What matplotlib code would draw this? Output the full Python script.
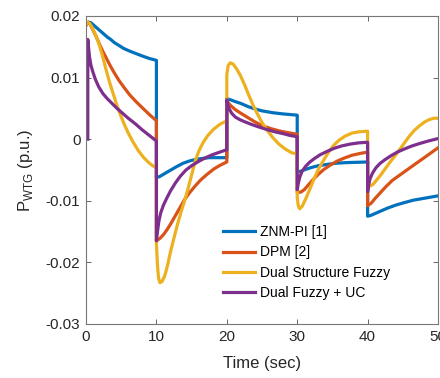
import matplotlib
matplotlib.use("Agg")
import matplotlib.pyplot as plt

plt.rcParams["font.family"] = ["Liberation Sans", "DejaVu Sans"]
plt.rcParams["mathtext.fontset"] = "custom"
plt.rcParams["mathtext.rm"] = "Liberation Sans"

# wind turbine power deviation, one list of (time, value) knots per controller
t_znm = [0, 0.2, 0.4, 0.7, 1, 1.5, 2, 2.5, 3, 3.5, 4, 4.7, 5.4, 6.2, 7.1, 8, 9, 10,
         10, 10.4, 11, 11.9, 12.8, 13.8, 14.8, 16, 17.5, 20,
         20, 20.5, 21.2, 22, 23, 24, 25, 26.5, 28, 30,
         30, 30.5, 31.2, 32, 33, 34.2, 35.5, 37, 40,
         40, 40.4, 41, 41.8, 42.8, 44, 45.2, 46.5, 48, 50]
p_znm = [0.0185, 0.0189, 0.019, 0.0189, 0.0186, 0.0181, 0.0176, 0.0171, 0.0166, 0.0162,
         0.0157, 0.0152, 0.0147, 0.0143, 0.0139, 0.0135, 0.0131, 0.0128,
         -0.0062, -0.0061, -0.0057, -0.0051, -0.0045, -0.0039, -0.0035, -0.0032, -0.0030, -0.0030,
         0.0066, 0.0064, 0.0061, 0.0058, 0.0053, 0.0049, 0.0046, 0.0043, 0.0041, 0.0039,
         -0.0053, -0.0052, -0.0049, -0.0046, -0.0043, -0.0041, -0.0039, -0.0038, -0.0037,
         -0.0125, -0.0124, -0.0121, -0.0117, -0.0112, -0.0107, -0.0103, -0.0099, -0.0096, -0.0092]

t_dpm = [0, 0.3, 0.6, 1, 1.5, 2, 2.5, 3, 3.5, 4.1, 4.7, 5.4, 6.2, 7.1, 8, 9, 10,
         10, 10.5, 11, 11.5, 12, 12.5, 13, 13.5, 14, 14.7, 15.5, 16.3, 17.2, 18.2, 19.1, 20,
         20, 20.2, 20.6, 21.2, 22, 23, 24, 25, 26.3, 27.6, 29, 30,
         30, 30.5, 31, 31.6, 32.3, 33, 33.8, 34.7, 35.6, 36.6, 37.8, 39, 40,
         40, 40.5, 41, 41.8, 42.6, 43.5, 44.6, 45.7, 46.8, 47.8, 48.9, 50]
p_dpm = [0.0185, 0.019, 0.0186, 0.0177, 0.0165, 0.0152, 0.0140, 0.0129, 0.0118, 0.0106,
         0.0095, 0.0084, 0.0072, 0.0061, 0.0051, 0.0040, 0.0030,
         -0.0165, -0.0161, -0.0155, -0.0147, -0.0138, -0.0128, -0.0118, -0.0108, -0.0098,
         -0.0087, -0.0076, -0.0066, -0.0057, -0.0048, -0.0042, -0.0037,
         0.0062, 0.0059, 0.0054, 0.0048, 0.0042, 0.0035, 0.0028, 0.0022, 0.0017, 0.0013, 0.0010, 0.0008,
         -0.0086, -0.0086, -0.0082, -0.0074, -0.0065, -0.0057, -0.0049, -0.0042, -0.0036,
         -0.0031, -0.0026, -0.0023, -0.0021,
         -0.0108, -0.0104, -0.0097, -0.0087, -0.0077, -0.0067, -0.0058, -0.0049, -0.0040,
         -0.0032, -0.0023, -0.0014]

t_dsf = [0, 0.2, 0.5, 0.9, 1.3, 1.8, 2.3, 2.8, 3.3, 3.8, 4.3, 4.8, 5.4, 6, 6.7, 7.4, 8.2, 9, 9.6, 10,
         10, 10.15, 10.3, 10.5, 10.8, 11.2, 11.6, 12, 12.5, 13, 13.5, 14, 14.5, 15, 15.5,
         16, 16.6, 17.3, 18.1, 19, 20,
         20, 20.2, 20.5, 20.9, 21.4, 21.9, 22.5, 23.1, 23.7, 24.3, 25, 25.7, 26.5, 27.4, 28.3, 29.2, 30,
         30, 30.15, 30.35, 30.7, 31.2, 31.8, 32.4, 33, 33.7, 34.4, 35.1, 35.9, 36.8, 37.8, 38.8, 40,
         40, 40.15, 40.4, 40.8, 41.3, 41.8, 42.5, 43.2, 43.9, 44.6, 45.3, 46, 46.7, 47.4, 48.1,
         48.8, 49.4, 50]
p_dsf = [0.0185, 0.019, 0.0188, 0.0181, 0.0171, 0.0156, 0.0137, 0.0115, 0.0094, 0.0076,
         0.0058, 0.0042, 0.0025, 0.0010, -0.0005, -0.0018, -0.0030, -0.0039, -0.0044, -0.0046,
         -0.0170, -0.0205, -0.0225, -0.0233, -0.0231, -0.0221, -0.0204, -0.0183, -0.0160,
         -0.0138, -0.0118, -0.0100, -0.0080, -0.0058, -0.0036, -0.0020, -0.0006, 0.0006,
         0.0016, 0.0024, 0.0030,
         0.0105, 0.0120, 0.0124, 0.0122, 0.0114, 0.0104, 0.0089, 0.0072, 0.0056, 0.0042,
         0.0027, 0.0015, 0.0003, -0.0008, -0.0016, -0.0022, -0.0024,
         -0.0095, -0.0108, -0.0113, -0.0109, -0.0097, -0.0081, -0.0064, -0.0049, -0.0035,
         -0.0022, -0.0011, -0.0002, 0.0005, 0.0010, 0.0012, 0.0013,
         -0.0062, -0.0072, -0.0076, -0.0073, -0.0066, -0.0059, -0.0048, -0.0037, -0.0027,
         -0.0016, -0.0005, 0.0006, 0.0015, 0.0022, 0.0028, 0.0032, 0.0034, 0.0034]

t_dfuc = [0.25, 0.25, 0.35, 0.5, 0.7, 0.95, 1.3, 1.8, 2.4, 3, 3.7, 4.4, 5.2, 6, 7, 8, 9, 10,
          10, 10.15, 10.35, 10.6, 11, 11.5, 12, 12.7, 13.4, 14.2, 15, 16, 17, 18, 19, 20,
          20, 20.15, 20.35, 20.7, 21.2, 21.8, 22.6, 23.5, 24.5, 25.6, 26.8, 28, 29, 30,
          30, 30.15, 30.35, 30.7, 31.2, 31.8, 32.5, 33.3, 34.2, 35.2, 36.3, 37.5, 38.7, 40,
          40, 40.15, 40.35, 40.7, 41.2, 41.8, 42.5, 43.3, 44.2, 45.2, 46.3, 47.4, 48.6, 50]
p_dfuc = [0, 0.0162, 0.0150, 0.0133, 0.0120, 0.0110, 0.0098, 0.0085, 0.0074, 0.0066,
          0.0058, 0.0050, 0.0042, 0.0034, 0.0025, 0.0015, 0.0006, -0.0003,
          -0.0165, -0.0150, -0.0133, -0.0120, -0.0107, -0.0095, -0.0084, -0.0071, -0.0060,
          -0.0050, -0.0043, -0.0036, -0.0030, -0.0025, -0.0021, -0.0017,
          0.0064, 0.0056, 0.0049, 0.0042, 0.0036, 0.0032, 0.0028, 0.0024, 0.0020, 0.0016,
          0.0012, 0.0009, 0.0006, 0.0004,
          -0.0082, -0.0072, -0.0062, -0.0052, -0.0044, -0.0037, -0.0031, -0.0025, -0.0020,
          -0.0015, -0.0011, -0.0008, -0.0006, -0.0005,
          -0.0085, -0.0074, -0.0064, -0.0055, -0.0046, -0.0039, -0.0033, -0.0027, -0.0021,
          -0.0016, -0.0011, -0.0007, -0.0003, 0.0001]

labels = ["ZNM-PI [1]", "DPM [2]", "Dual Structure Fuzzy", "Dual Fuzzy + UC"]
colors = ["#0072BD", "#D95319", "#EDB120", "#7E2F8E"]

x_ticks = [0, 10, 20, 30, 40, 50]
y_ticks = [-0.03, -0.02, -0.01, 0, 0.01, 0.02]
y_tick_labels = ["-0.03", "-0.02", "-0.01", "0", "0.01", "0.02"]

fig = plt.figure(figsize=(4.4, 3.78), dpi=100)
ax = fig.add_axes([0.1955, 0.1429, 0.8, 0.8148])

series = [(t_znm, p_znm), (t_dpm, p_dpm), (t_dsf, p_dsf), (t_dfuc, p_dfuc)]
for (t, p), lab, col in zip(series, labels, colors):
    ax.plot(t, p, color=col, lw=2.3, label=lab, solid_joinstyle="round")

ax.set_xlim(0, 50)
ax.set_ylim(-0.03, 0.02)
ax.set_xticks(x_ticks)
ax.set_yticks(y_ticks)
ax.set_yticklabels(y_tick_labels)

ax.tick_params(direction="in", top=True, right=True, length=3.5, width=0.7,
               labelsize=11, colors="#666666", labelcolor="#262626", pad=4)
for s in ax.spines.values():
    s.set_color("#777777")
    s.set_linewidth(0.8)

ax.set_xlabel("Time (sec)", fontsize=12, color="#262626", labelpad=9)
ax.set_ylabel(r"P$_{\mathrm{WTG}}$ (p.u.)", fontsize=12, color="#262626", labelpad=8)

ax.legend(loc="lower left", bbox_to_anchor=(0.388, 0.078), frameon=False,
          fontsize=10, handlelength=2.3, handletextpad=0.4, labelspacing=0.45,
          borderaxespad=0, borderpad=0)

fig.savefig("out.png", dpi=100)
